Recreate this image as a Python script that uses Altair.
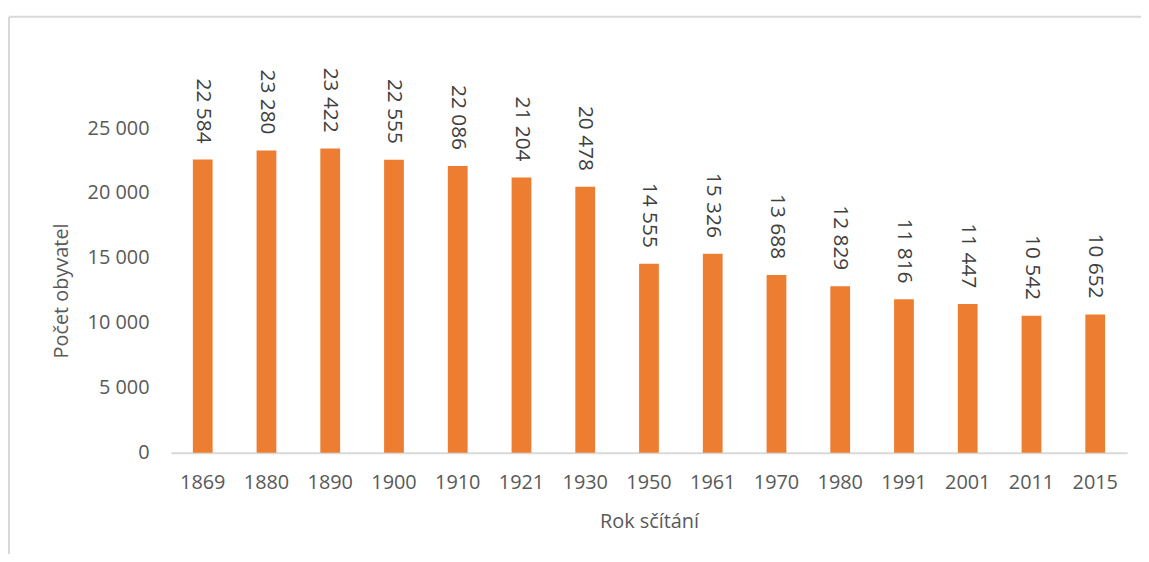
import altair as alt
import pandas as pd

years = ["1869", "1880", "1890", "1900", "1910", "1921", "1930", "1950",
         "1961", "1970", "1980", "1991", "2001", "2011", "2015"]
population = [22584, 23280, 23422, 22555, 22086, 21204, 20478, 14555,
              15326, 13688, 12829, 11816, 11447, 10542, 10652]

df = pd.DataFrame({"rok": years, "obyv": population})
df["label"] = [f"{v:,}".replace(",", " ") for v in population]

FONT = "Open Sans"
GRAY = "#595959"

x = alt.X("rok:N", sort=years,
          scale=alt.Scale(paddingInner=0.69, paddingOuter=0.345),
          axis=alt.Axis(title="Rok sčítání", labelAngle=0, ticks=False,
                        domainColor="#d9d9d9", domainWidth=2,
                        labelFont=FONT, labelFontSize=20, labelColor=GRAY,
                        labelPadding=20,
                        titleFont=FONT, titleFontSize=20, titleColor=GRAY,
                        titleFontWeight="normal", titleY=69,
                        titleBaseline="middle"))
y = alt.Y("obyv:Q",
          scale=alt.Scale(domain=[0, 25000], nice=False),
          axis=alt.Axis(title="Počet obyvatel", values=[0, 5000, 10000, 15000, 20000, 25000],
                        labelExpr="replace(format(datum.value, ','), ',', ' ')",
                        grid=False, domain=False, ticks=False,
                        labelFont=FONT, labelFontSize=20, labelColor=GRAY,
                        labelPadding=22,
                        titleFont=FONT, titleFontSize=20, titleColor=GRAY,
                        titleFontWeight="normal", titleAngle=-90,
                        titleX=-110, titleY=163.5, titleAlign="center",
                        titleBaseline="middle"))

bars = alt.Chart(df).mark_bar(color="#ED7D31").encode(x=x, y=y)

labels = alt.Chart(df).mark_text(
    angle=90, align="right", baseline="middle", dx=-16,
    font=FONT, fontSize=21, color="#404040"
).encode(x=alt.X("rok:N", sort=years), y="obyv:Q", text="label:N")

frame_df = pd.DataFrame({"a": [0]})
top_border = alt.Chart(frame_df).mark_rule(color="#d9d9d9", strokeWidth=2).encode(
    x=alt.value(-163), x2=alt.value(1100), y=alt.value(-112))
left_border = alt.Chart(frame_df).mark_rule(color="#d9d9d9", strokeWidth=2).encode(
    x=alt.value(-163), y=alt.value(-112), y2=alt.value(600))

chart = alt.layer(top_border, left_border, bars, labels).properties(
    width=963, height=327,
    padding={"left": 164, "top": 119, "right": 14, "bottom": 100},
    autosize=alt.AutoSizeParams(type="none"),
).configure(background="white").configure_view(strokeWidth=0, stroke="transparent")

chart.save("out.html", embed_options={"renderer": "svg", "actions": False})
